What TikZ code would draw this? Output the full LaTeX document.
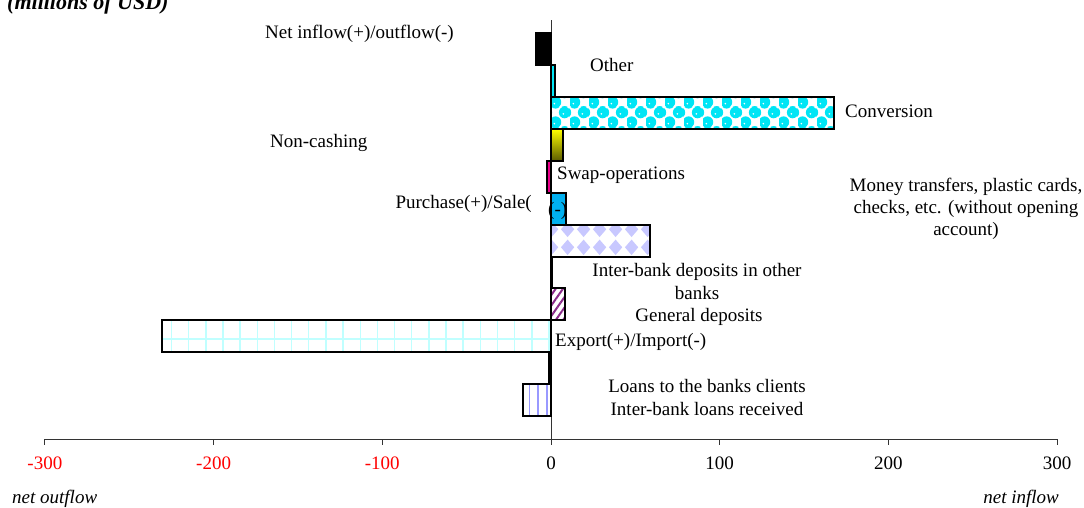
\documentclass[tikz,border=0pt]{standalone}
\usepackage{fontspec}
\setmainfont{Liberation Serif}
\usepackage{xcolor}
\usetikzlibrary{patterns,patterns.meta}

\definecolor{convcyan}{HTML}{00E5F5}
\definecolor{skyblue}{HTML}{00B0F0}
\definecolor{lavender}{HTML}{C8C8FF}
\definecolor{gridcyan}{HTML}{C0FFFF}
\definecolor{plum}{HTML}{8B2C8B}
\definecolor{stripeblue}{HTML}{9999FF}
\definecolor{olivedark}{HTML}{5A5A00}

\tikzdeclarepattern{
  name=bubbles, type=uncolored,
  bounding box={(0pt,0pt) and (19pt,20pt)},
  tile size={(19pt,20pt)},
  code={
    \fill[even odd rule] (4.75pt,5pt) circle (6pt) (3.5pt,3.5pt) circle (1.2pt);
    \fill[even odd rule] (14.25pt,15pt) circle (6pt) (13pt,13.5pt) circle (1.2pt);
    \fill (14.25pt,-5pt) circle (6pt) (-4.75pt,15pt) circle (6pt) (23.75pt,15pt) circle (6pt) (4.75pt,25pt) circle (6pt);
  }
}
\tikzdeclarepattern{
  name=diamonds, type=uncolored,
  bounding box={(0pt,0pt) and (16pt,18pt)},
  tile size={(16pt,18pt)},
  code={
    \fill (8pt,1pt) -- (15pt,9pt) -- (8pt,17pt) -- (1pt,9pt) -- cycle;
  }
}

\tikzset{
  bar/.style={draw=black, line width=1.6pt},
  axisline/.style={draw=black!80, line width=0.9pt},
  lbl/.style={inner sep=0pt, font=\fontsize{19}{23}\selectfont},
}

\begin{document}
\begin{tikzpicture}[x=1pt, y=-1pt]
  \useasboundingbox (0,0) rectangle (1084,507);

  \node[lbl, anchor=base west, font=\fontsize{22}{26}\selectfont\bfseries\itshape] (title) at (7,9) {(millions of USD)};

  % axes
  \draw[axisline] (551,20) -- (551,439);
  \draw[axisline] (45,439) -- (1057,439);
  \foreach \v/\c [count=\i] in {-300/red, -200/red, -100/red, 0/black, 100/black, 200/black, 300/black}{
    \draw[axisline] (551+1.687*\v,439) -- ++(0,6);
    \node[lbl, anchor=base, text=\c] (tick\i) at (551+1.687*\v,469) {\v};
  }

  % bars, values in millions of USD
  \begin{scope}[xshift=551pt, x=1.687pt]
    \draw[bar, fill=black] (0,33) rectangle (-9.1,65);
    \draw[bar, fill=convcyan] (0,65) rectangle (2.4,97);
    \draw[bar, preaction={fill=white}, pattern=bubbles, pattern color=convcyan] (0,97) rectangle (167.8,129);
    \draw[bar, top color=yellow, bottom color=olivedark] (0,129) rectangle (7.1,161);
    \draw[bar, fill=magenta] (0,161) rectangle (-2.4,193);
    \draw[bar, fill=skyblue] (0,193) rectangle (8.9,225);
    \draw[bar, preaction={fill=white}, pattern=diamonds, pattern color=lavender] (0,225) rectangle (58.7,257);
    \draw[bar, fill=white] (0,257) rectangle (0.6,288);
    \draw[bar, preaction={fill=white}, pattern={Lines[angle=55,distance=6pt,line width=2pt]}, pattern color=plum] (0,288) rectangle (8.3,320);

    \fill[white] (0,320) rectangle (-230.6,352);
    \foreach \k in {0,...,22}
      \draw[gridcyan, line width=1.4pt] (-1.2-10.17*\k,321) -- ++(0,30);
    \draw[gridcyan, line width=1.4pt] (-230.6,339) -- (-1.2,339);
    \draw[bar] (0,320) rectangle (-230.6,352);

    \draw[bar, fill=white] (0,352) rectangle (-1.2,384);

    \fill[white] (0,384) rectangle (-16.6,416);
    \foreach \v in {-2.5,-7.6,-12.7}
      \draw[stripeblue, line width=1.5pt] (\v,385) -- (\v,415);
    \draw[bar] (0,384) rectangle (-16.6,416);
  \end{scope}

  % category labels
  \node[lbl, anchor=base west] (net) at (265,38) {Net inflow(+)/outflow(-)};
  \node[lbl, anchor=base west] (other) at (590,71) {Other};
  \node[lbl, anchor=base west] (conv) at (845,117) {Conversion};
  \node[lbl, anchor=base west] (noncash) at (270,147) {Non-cashing};
  \node[lbl, anchor=base west] (swap) at (557,179) {Swap-operations};
  \node[lbl, anchor=base east] (purchase) at (532,208) {Purchase(+)/Sale(};
  \node[lbl, anchor=base west] (sale) at (548,215) {(-)};
  \node[lbl, anchor=base, align=center, font=\fontsize{19}{22}\selectfont] (transfers) at (966,235) {Money transfers, plastic cards,\\checks, etc. (without opening\\account)};
  \node[lbl, anchor=base, align=center] (ibdep) at (697,299) {Inter-bank deposits in other\\banks};
  \node[lbl, anchor=base] (gendep) at (699,321) {General deposits};
  \node[lbl, anchor=base west] (export) at (555,346) {Export(+)/Import(-)};
  \node[lbl, anchor=base] (loans) at (707,392) {Loans to the banks clients};
  \node[lbl, anchor=base] (ibloans) at (707,415) {Inter-bank loans received};

  \node[lbl, anchor=base west, font=\fontsize{19}{23}\selectfont\itshape] (outflow) at (12,503) {net outflow};
  \node[lbl, anchor=base east, font=\fontsize{19}{23}\selectfont\itshape] (inflow) at (1059,503) {net inflow};
\end{tikzpicture}
\end{document}
